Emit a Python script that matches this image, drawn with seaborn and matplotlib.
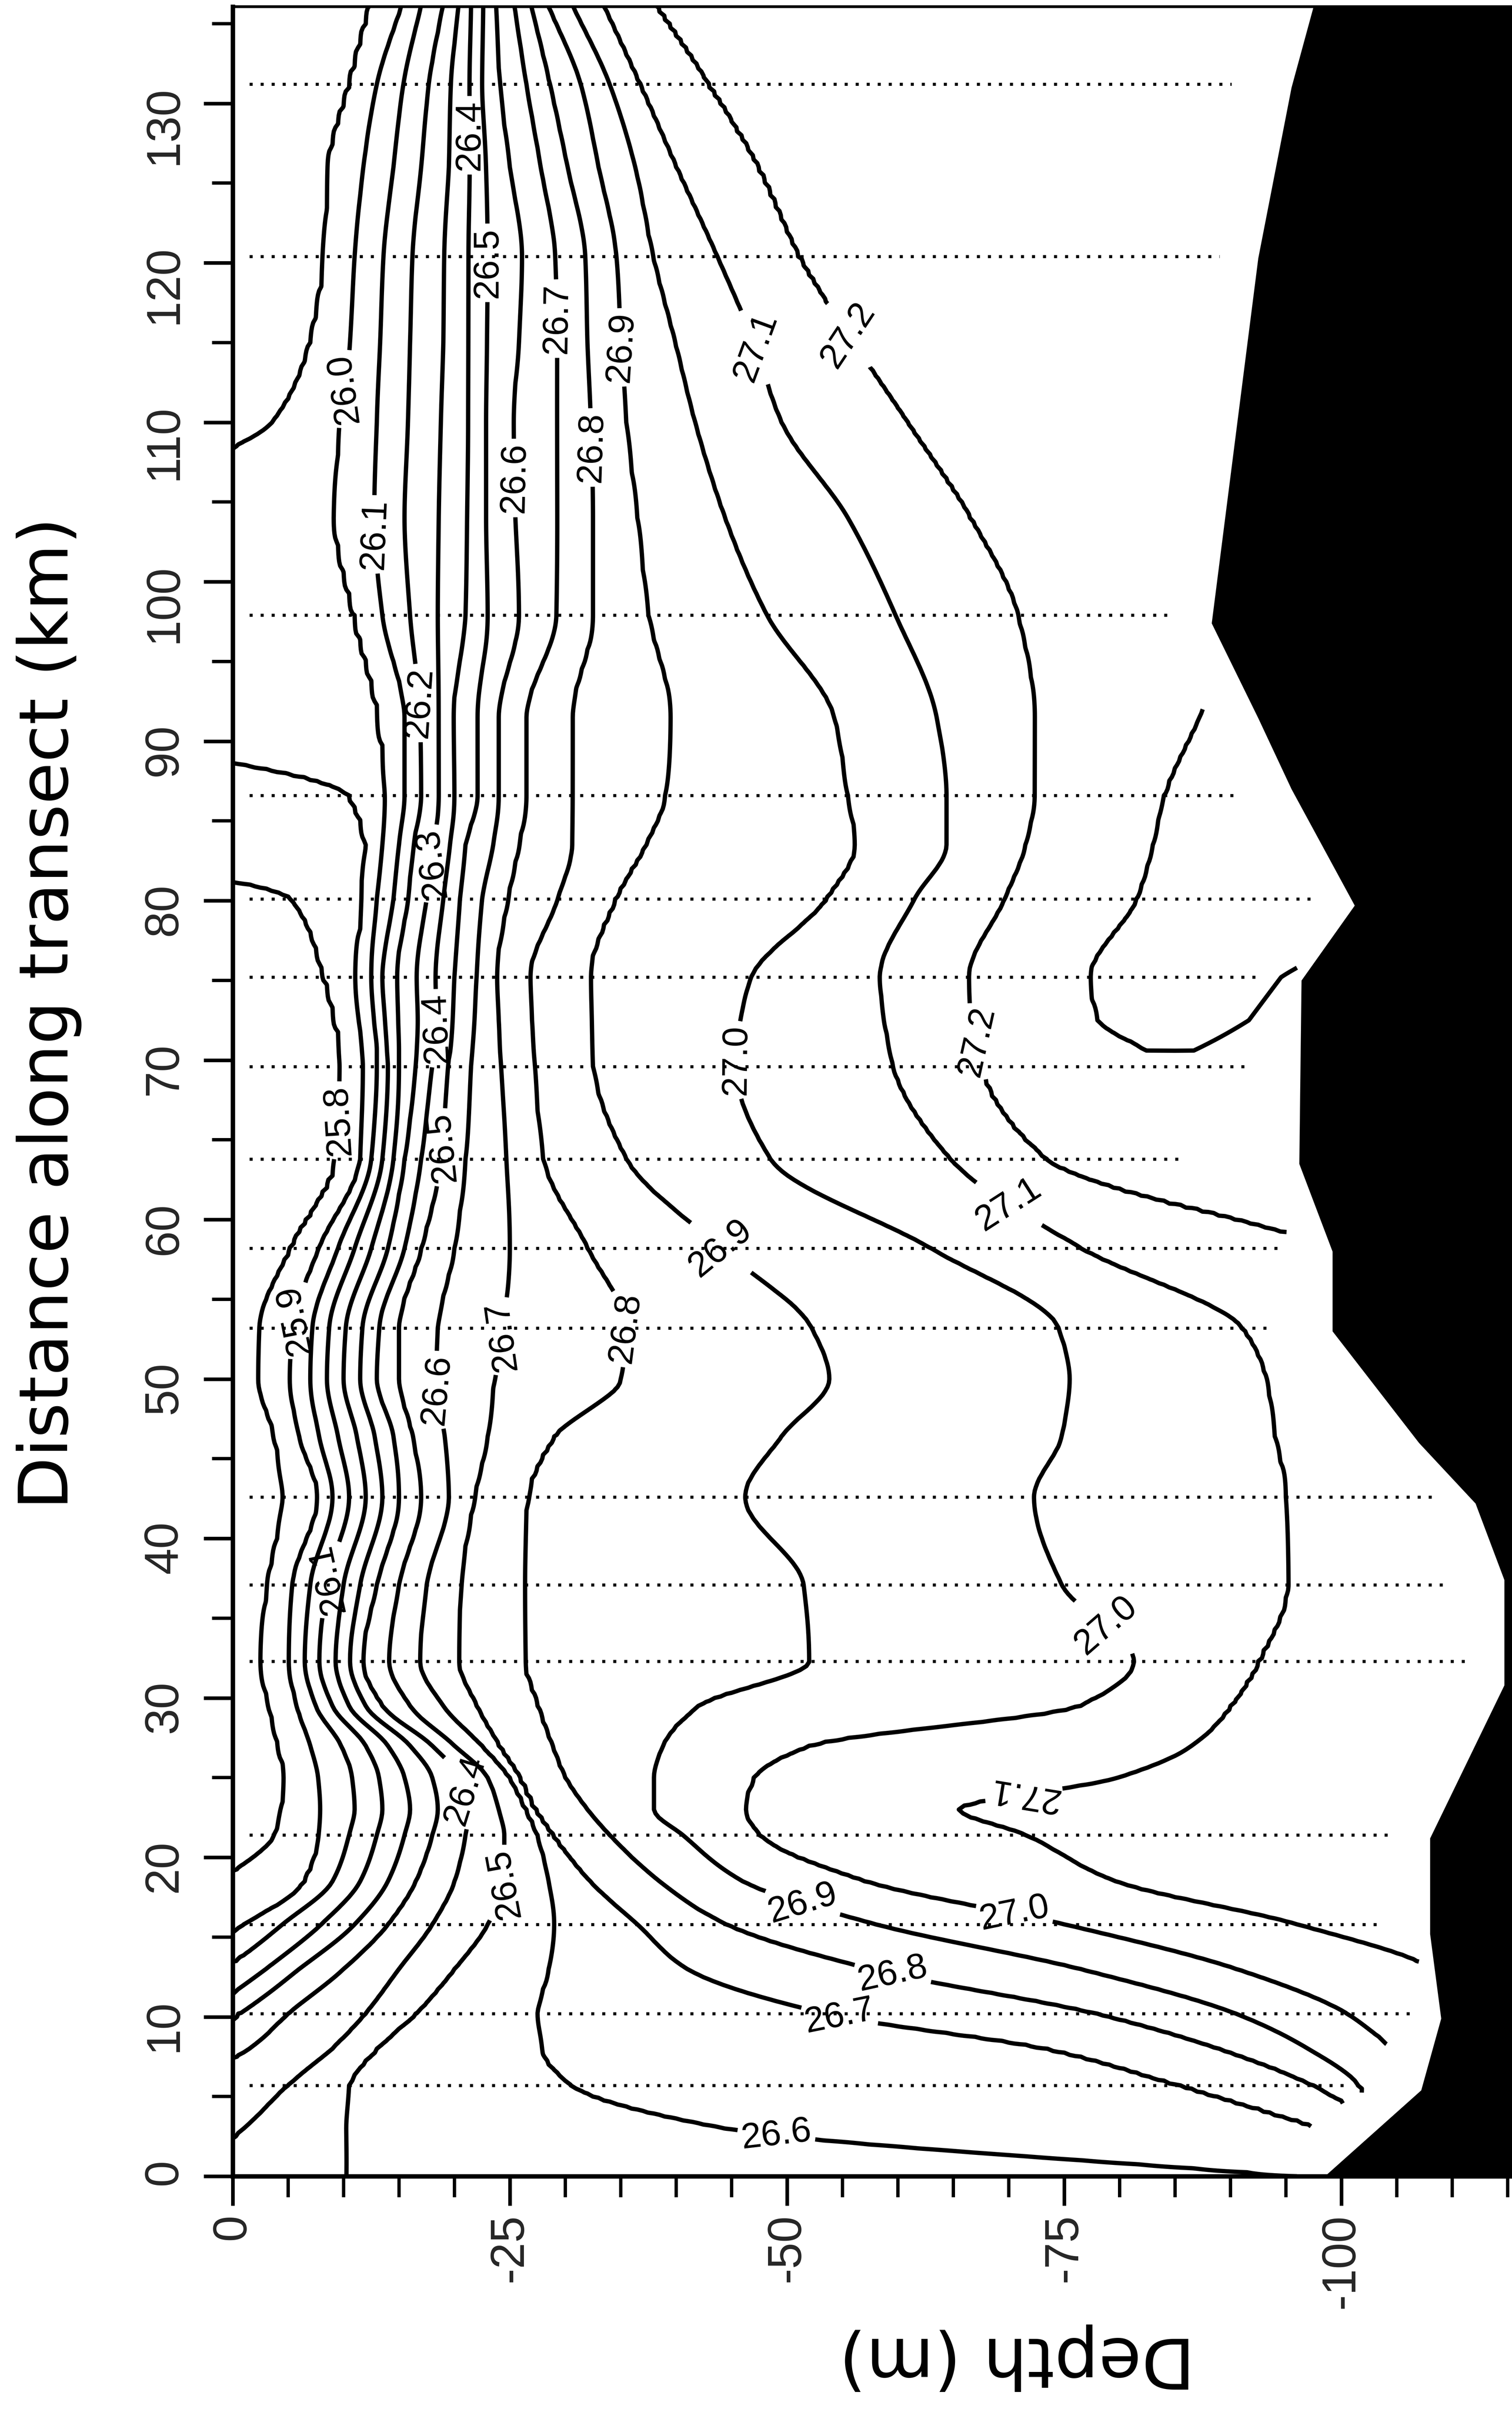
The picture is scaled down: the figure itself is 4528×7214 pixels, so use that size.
import numpy as np
import matplotlib
matplotlib.use("Agg")
import matplotlib.pyplot as plt
from matplotlib.ticker import MultipleLocator
import seaborn as sns

N = np.nan

# distance along the transect (km) of each profile
rows_km = [0, 3, 5.7, 8, 10.2, 13, 15.8, 18.5, 21.4, 23.0, 25, 27, 29.5, 32.3,
           37.1, 42.6, 46.4, 50, 53.2, 58.2, 63.8, 69.6, 70.6, 72.5, 75.2, 80.1,
           83.5, 86.6, 91.5, 97.9, 104, 110, 115, 120.4, 126, 131.2, 136.2]

levels = [25.8, 25.9, 26.0, 26.1, 26.2, 26.3, 26.4, 26.5, 26.6, 26.7,
          26.8, 26.9, 27.0, 27.1, 27.2, 27.3]

# depth (m) of each isopycnal (sigma-t) on the rows above
# (negative = outcropped above the surface, deeper than the cast = below the data)
iso_25_8 = [N, N, N, N, N, N, N, -1.0, 3.8, 4.4, 4.7, 4.1, 3.3, 2.5, 3.2, 4.5, 3.8, 2.3,
            2.4, 5.3, 9.4, 9.9, 9.8, 9.3, 8.3, 5.3, -20, N, N, N, N, N, N, N, N, N, N]
iso_25_9 = [N, N, N, N, N, -8.0, 1.0, 6.5, 7.8, 7.9, 7.7, 7.0, 5.8, 5.1, 5.4, 7.7, 6.0, 5.2,
            5.5, 7.8, 11.5, 11.8, 11.7, 11.4, 11.1, 11.8, 12.0, 10.5, -25, N, -20, 3.6, 7.0, 8.3,
            8.7, 10.6, 12.5]
iso_26_0 = [N, N, N, N, N, -0.5, 4.5, 9.0, 10.5, 11.0, 10.8, 9.8, 7.5, 6.5, 7.0, 9.0, 7.8, 7.0,
            7.2, 9.5, 12.5, 13.0, 13.0, 12.8, 12.5, 13.0, 13.5, 13.8, 13.2, 11.0, 9.3, 9.7,
            10.6, 11.0, 11.8, 13.0, 15.3]
iso_26_1 = [N, N, N, N, -2.5, 3.0, 8.0, 11.5, 13.0, 13.5, 13.2, 12.0, 9.0, 7.8, 8.5, 10.5, 9.5,
            8.5, 8.7, 11.0, 13.5, 14.0, 13.9, 13.7, 13.5, 14.5, 15.0, 15.5, 15.5, 13.5, 12.8,
            13.0, 13.3, 13.6, 14.5, 15.4, 17.0]
iso_26_2 = [N, N, N, -6.0, 0.5, 6.0, 11.0, 14.0, 15.5, 16.0, 15.5, 14.0, 10.5, 9.3, 10.0, 12.0,
            11.2, 10.0, 10.2, 12.5, 14.5, 15.0, 15.0, 14.9, 14.8, 15.8, 16.3, 17.0, 16.9, 16.0,
            15.5, 15.8, 16.0, 16.2, 17.0, 17.7, 19.0]
iso_26_3 = [N, N, -4.5, 1.5, 5.0, 10.0, 14.0, 16.5, 18.0, 18.5, 18.0, 16.0, 12.0, 10.6, 11.5,
            13.5, 12.8, 11.5, 11.7, 14.0, 15.5, 16.5, 16.6, 16.7, 16.6, 17.5, 18.2, 18.6, 18.6,
            18.5, 18.6, 18.8, 19.0, 19.1, 19.5, 19.7, 20.4]
iso_26_4 = [-5.0, 1.0, 5.0, 9.0, 12.0, 15.0, 18.0, 20.0, 21.0, 21.3, 20.5, 18.0, 13.5, 11.7,
            13.0, 15.0, 14.5, 13.0, 13.2, 15.5, 17.0, 18.0, 18.2, 18.4, 18.3, 19.0, 19.6, 20.0,
            19.9, 21.0, 21.2, 21.3, 21.3, 21.3, 21.4, 21.4, 21.5]
iso_26_5 = [10.1, 10.1, 10.5, 13.0, 16.5, 20.0, 23.0, 24.5, 24.5, 24.0, 23.0, 20.0, 16.0,
            14.1, 15.0, 17.0, 16.2, 15.0, 15.0, 17.0, 18.8, 19.4, 19.6, 19.8, 20.0, 20.5,
            21.0, 22.1, 22.1, 23.0, 22.8, 22.8, 22.9, 23.0, 22.8, 22.5, 22.6]
iso_26_6 = [96.0, 44.3, 30.5, 27.8, 27.5, 28.5, 29.0, 28.5, 27.5, 26.5, 25.0, 22.5, 19.0,
            16.9, 17.5, 19.5, 19.1, 18.3, 18.5, 20.0, 21.0, 21.5, 21.6, 21.8, 22.0, 22.5,
            23.5, 24.0, 24.0, 25.8, 25.5, 25.3, 25.8, 26.1, 25.0, 24.1, 23.7]
iso_26_7 = [N, 98.5, 85.5, 73.5, 53.5, 41.0, 36.5, 32.2, 28.8, 27.2, 25.8, 24.0, 22.0, 20.4,
            20.6, 21.8, 23.0, 23.6, 24.3, 25.0, 24.7, 24.2, 24.1, 24.0, 23.8, 24.8, 25.8,
            26.5, 26.5, 29.2, 29.3, 29.3, 29.3, 29.1, 27.8, 26.5, 25.4]
iso_26_8 = [N, 104.0, 97.5, 89.0, 78.0, 57.5, 44.5, 38.5, 34.0, 32.0, 30.0, 28.8, 27.5, 26.3,
            26.2, 26.6, 29.0, 35.0, 35.4, 32.0, 28.0, 27.2, 27.1, 27.0, 26.8, 29.3, 30.6,
            30.6, 30.6, 32.5, 32.5, 32.3, 32.0, 31.8, 30.2, 28.6, 26.9]
iso_26_9 = [N, 103.0, 101.5, 97.0, 90.5, 76.5, 58.0, 46.0, 40.6, 38.0, 38.0, 38.8, 42.0, 52.0,
            51.5, 46.2, 49.5, 53.8, 52.2, 44.0, 35.5, 32.5, 32.4, 32.3, 32.2, 34.5, 37.2,
            39.0, 39.5, 37.5, 36.5, 35.5, 35.0, 34.6, 33.0, 31.4, 28.4]
iso_27_0 = [N, N, N, 104.5, 100.5, 90.5, 75.0, 57.0, 47.5, 46.2, 47.0, 52.0, 76.5, 81.4, 74.8,
            72.3, 74.8, 75.5, 74.5, 63.0, 48.5, 45.4, 45.4, 45.8, 46.8, 53.6, 56.2, 55.5,
            54.3, 48.2, 44.4, 41.7, 39.9, 37.9, 36.3, 34.0, 30.6]
iso_27_1 = [N, N, N, N, 112.0, 108.2, 96.0, 79.6, 71.5, 65.5, 79.8, 86.5, 90.0, 92.5, 95.1,
            95.0, 94.0, 93.2, 91.0, 76.5, 64.8, 59.6, 59.3, 58.8, 58.4, 61.5, 64.4, 64.4,
            63.5, 59.8, 55.5, 49.5, 47.0, 43.7, 40.0, 36.7, 33.4]
iso_27_2 = [N, N, N, N, N, N, N, N, N, N, N, N, N, N, N, N, N, N, N, 100.0,
            73.3, 67.5, 67.3, 66.6, 66.4, 69.6, 71.5, 72.3, 72.3, 70.8, 66.5, 60.8, 55.9,
            51.0, 47.3, 42.8, 38.0]
iso_27_3 = [N, N, N, N, N, N, N, N, N, N, N, N, N, N, N, N, N, N, N, N,
            N, N, 82.3, 78.0, 77.3, 81.5, 83.0, 84.0, 87.2, N, N, N, N, N, N, N, N]

# densest water in the lens near the bottom (between the arms of 27.3)
core_depth_m = [N] * 22 + [85.0, 86.0, 86.0, 90.0, 89.0, 88.0, N] + [N] * 8
core_sigma = [N] * 22 + [27.305, 27.32, 27.33, 27.33, 27.33, 27.32, N] + [N] * 8

surface_sigma = [26.45, 26.39, 26.35, 26.29, 26.15, 26.05, 25.85, 25.82, 25.75, 25.75,
                 25.75, 25.75, 25.75, 25.75, 25.75, 25.75, 25.75, 25.72, 25.72, 25.75,
                 25.75, 25.75, 25.75, 25.75, 25.75, 25.77, 25.85, 25.86, 25.95, 25.95,
                 25.95, 25.87, 25.85, 25.85, 25.85, 25.85, 25.85]
bottom_sigma = [26.61, 26.69, 26.92, 26.98, 27.05, 27.09, 27.14, 27.17, 27.18, 27.18,
                27.16, 27.14, 27.13, 27.13, 27.12, 27.12, 27.12, 27.11, 27.11, 27.17,
                27.25, 27.28, 27.28, 27.29, 27.295, 27.33, 27.33, 27.32, 27.305, 27.27,
                27.26, 27.27, 27.28, 27.28, 27.29, 27.29, 27.29]
data_bottom_m = [97, 97, 103, 104, 107, 107.5, 107, 106, 106, 107, 108, 109.5, 111, 112,
                 110.5, 109, 104, 97, 96, 96, 93, 93, 93.5, 94.5, 96, 98, 95, 92, 88, 86,
                 87, 88, 89, 89.5, 90, 90.5, 91]

# CTD stations (dotted lines)
station_km = [5.7, 10.2, 15.8, 21.4, 32.3, 37.1, 42.6, 53.2, 58.2, 63.8, 69.6, 75.2, 80.1,
              86.6, 97.9, 120.4, 131.2]
station_depth_m = [100.7, 106.6, 103.6, 104.7, 111.7, 109.7, 108.8, 93.8, 94.7, 85.7, 91.8,
                   92.9, 97.9, 90.8, 84.9, 89.0, 90.1]
cast_top_m = 1.5

# sea floor
bathy_km = [0, 5.4, 9.9, 15.2, 21.2, 30.8, 37.4, 42.2, 46.0, 53.0, 58.0, 63.5, 75.0, 79.7,
            87.0, 91.45, 97.4, 120.3, 131.0, 136.1]
bathy_m = [98.5, 107.2, 109.0, 108.0, 108.0, 114.7, 114.7, 112.1, 107.0, 99.2, 99.2, 96.2,
           96.4, 101.2, 95.5, 92.5, 88.3, 92.5, 95.5, 97.5]

# where the contour labels sit (depth m, km)
label_depth_m = [9.9, 13.8, 16.9, 18.2, 21.4, 23.2, 25.0, 29.1, 31.5, 35.1, 47.1, 55.3,
                 18.3, 19.4, 9.9, 5.6, 18.3, 24.1, 35.4, 44.0, 45.4, 67.3, 70.5,
                 8.9, 21.0, 25.1, 51.4, 54.7, 49.0, 59.6, 70.5, 71.5, 78.6]
label_km = [112.1, 103.0, 92.4, 82.3, 128.0, 120.0, 106.5, 116.5, 108.4, 114.7, 114.7, 115.3,
            72.0, 64.5, 66.2, 53.7, 49.3, 52.7, 53.2, 58.2, 70.0, 71.2, 61.5,
            37.4, 24.2, 18.3, 17.1, 9.9, 2.4, 12.9, 16.4, 23.6, 34.4]

# ---- grid the section: smooth each isopycnal along the transect, then fill profiles
rows = np.array(rows_km, float)
fine_km = np.union1d(np.round(np.arange(0, 136.2, 0.25), 2), rows)
depth_grid = np.arange(0, 115.5, 0.5)


def along_rows(values, smooth=True):
    y_all = np.asarray(values, float)
    out = np.full(fine_km.shape, np.nan)
    idx = np.where(~np.isnan(y_all))[0]
    if len(idx) == 0:
        return out
    for run in np.split(idx, np.where(np.diff(idx) > 1)[0] + 1):
        x, y = rows[run], y_all[run]
        if len(run) == 1:
            out[np.isclose(fine_km, x[0])] = y[0]
            continue
        h = np.diff(x)
        d = np.diff(y) / h
        m = np.zeros_like(y)
        if smooth:
            m[0], m[-1] = d[0], d[-1]
            for k in range(1, len(y) - 1):
                if d[k - 1] * d[k] > 0:
                    w1, w2 = 2 * h[k] + h[k - 1], h[k] + 2 * h[k - 1]
                    m[k] = (w1 + w2) / (w1 / d[k - 1] + w2 / d[k])
        sel = (fine_km >= x[0] - 1e-9) & (fine_km <= x[-1] + 1e-9)
        xf = fine_km[sel]
        k = np.clip(np.searchsorted(x, xf, side='right') - 1, 0, len(x) - 2)
        t = (xf - x[k]) / h[k]
        if smooth:
            out[sel] = ((2 * t**3 - 3 * t**2 + 1) * y[k] + (t**3 - 2 * t**2 + t) * h[k] * m[k]
                        + (-2 * t**3 + 3 * t**2) * y[k + 1] + (t**3 - t**2) * h[k] * m[k + 1])
        else:
            out[sel] = y[k] + t * (y[k + 1] - y[k])
    return out


iso_all = [iso_25_8, iso_25_9, iso_26_0, iso_26_1, iso_26_2, iso_26_3, iso_26_4, iso_26_5,
           iso_26_6, iso_26_7, iso_26_8, iso_26_9, iso_27_0, iso_27_1, iso_27_2, iso_27_3]
iso_f = [along_rows(a) for a in iso_all]
core_d_f = along_rows(core_depth_m, smooth=False)
core_s_f = along_rows(core_sigma, smooth=False)
surf_f = along_rows(surface_sigma, smooth=False)
bot_s_f = along_rows(bottom_sigma, smooth=False)
bot_d_f = along_rows(data_bottom_m, smooth=False)

field = np.full((len(fine_km), len(depth_grid)), np.nan)
for i in range(len(fine_km)):
    z, v, above, below = [], [], [], []
    for lev, arr in zip(levels, iso_f):
        if np.isnan(arr[i]):
            continue
        if arr[i] <= 0:
            above.append(lev)
        elif arr[i] >= bot_d_f[i]:
            below.append(lev)
        else:
            z.append(arr[i])
            v.append(lev)
    has_core = 0 < core_d_f[i] < bot_d_f[i]
    if has_core:
        z.append(core_d_f[i])
        v.append(core_s_f[i])
    # keep both ends of the profile consistent with the isopycnals around them
    surf, bot = surf_f[i], bot_s_f[i]
    if above:
        surf = max(surf, max(above) + 0.005)
    if v:
        surf = min(surf, min(v) - 0.005)
    if not has_core:
        if v:
            bot = max(bot, max(v) + 0.005)
        if below:
            bot = min(bot, min(below) - 0.005)
    z = np.array([0.0] + z + [bot_d_f[i]])
    v = np.array([surf] + v + [bot])
    order = np.argsort(z, kind='stable')
    prof = np.interp(depth_grid, z[order], v[order])
    prof[depth_grid > bot_d_f[i]] = np.nan
    field[i] = prof

X, Y = np.meshgrid(-depth_grid, fine_km)

# ---- plot
sns.set_theme(style="ticks")
plt.rcParams['font.family'] = ['Liberation Sans', 'DejaVu Sans']
plt.rcParams['axes.unicode_minus'] = False

fig = plt.figure(figsize=(4528 / 300, 7214 / 300), dpi=300)
ax = fig.add_axes([0.1539, 0.0966, 0.8461, 0.9006])

ax.hlines(station_km, -cast_top_m, -np.array(station_depth_m), colors='black',
          linestyles=(0, (1, 2.6)), linewidth=2.2, zorder=1)

cs = ax.contour(X, Y, field, levels=levels, colors='black', linewidths=3.1, zorder=2)
manual = list(zip(-np.array(label_depth_m), label_km))
texts = cs.clabel(levels[:-1], manual=manual, fmt='%.1f', fontsize=26,
                  inline=True, inline_spacing=12)
for t in texts:
    r = t.get_rotation()
    if r > 180:
        t.set_rotation(r - 180)

ax.fill_betweenx(bathy_km, -np.array(bathy_m), -200, color='black', lw=0, zorder=3)

ax.set_xlim(0, -115.4)
ax.set_ylim(0, 136.06)
ax.xaxis.set_major_locator(MultipleLocator(25))
ax.xaxis.set_minor_locator(MultipleLocator(5))
ax.yaxis.set_major_locator(MultipleLocator(10))
ax.yaxis.set_minor_locator(MultipleLocator(5))
ax.tick_params(which='major', length=21, width=2.6, direction='out', color='black')
ax.tick_params(which='minor', length=15, width=2.4, direction='out', color='black')
ax.tick_params(axis='y', labelrotation=90, pad=12, labelsize=34)
ax.tick_params(axis='x', labelrotation=90, pad=6, labelsize=34)

for side in ['left', 'bottom']:
    ax.spines[side].set_linewidth(3.2)
ax.spines['top'].set_linewidth(2.0)
ax.spines['right'].set_visible(False)
for side in ['left', 'bottom', 'top']:
    ax.spines[side].set_color('black')
    ax.spines[side].set_zorder(5)

ax.set_ylabel('Distance along transect (km)', fontsize=49, color='black',
              family=['DejaVu Sans'])
ax.yaxis.set_label_coords(-0.118, 0.536)
ax.set_xlabel('Depth (m)', fontsize=50, rotation=180, color='black',
              family=['DejaVu Sans'])
ax.xaxis.set_label_coords(0.613, -0.068)

fig.savefig('out.png', dpi=300, facecolor='white')
